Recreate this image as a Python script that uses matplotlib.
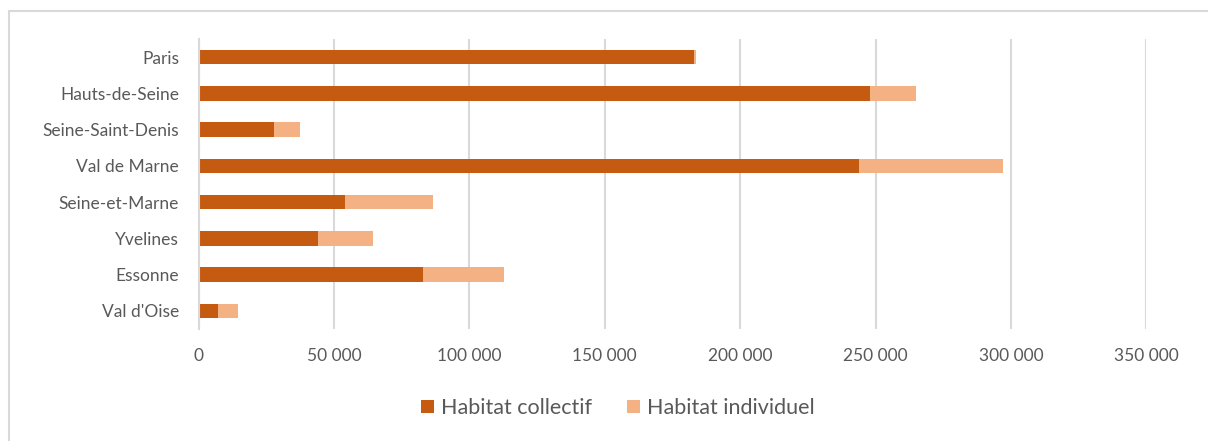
import matplotlib.pyplot as plt
from matplotlib.patches import Rectangle
from matplotlib.ticker import FuncFormatter

departements = ['Paris', 'Hauts-de-Seine', 'Seine-Saint-Denis', 'Val de Marne',
                'Seine-et-Marne', 'Yvelines', 'Essonne', "Val d'Oise"]
collectif = [183100, 248000, 28000, 243900, 54100, 44200, 83000, 7200]
individuel = [600, 17000, 9600, 53200, 32500, 20200, 29800, 7400]

plt.rcParams['font.family'] = ['Lato', 'DejaVu Sans']

fig = plt.figure(figsize=(12.08, 4.41), dpi=100)
ax = fig.add_axes([198.5 / 1208, 1 - 329 / 441, (1146.3 - 198.5) / 1208, 290 / 441])

# cadre autour du graphique (coupé à droite et en bas)
fig.patches.append(Rectangle((8.5 / 1208, -0.05), 1.1, 1 - 10.5 / 441 + 0.05,
                             transform=fig.transFigure, fill=False,
                             edgecolor='#D9D9D9', linewidth=1.5))

y = list(range(len(departements)))
ax.barh(y, collectif, height=0.4, color='#C55A11', label='Habitat collectif')
ax.barh(y, individuel, left=collectif, height=0.4, color='#F4B183',
        label='Habitat individuel')

ax.set_xlim(0, 350000)
ax.set_ylim(len(departements) - 0.5, -0.5)
ax.set_xticks(range(0, 350001, 50000))
ax.xaxis.set_major_formatter(FuncFormatter(lambda v, p: f'{int(v):,}'.replace(',', ' ')))
ax.set_yticks(y)
ax.set_yticklabels(departements)

ax.grid(axis='x', color='#D9D9D9', linewidth=1.5)
ax.set_axisbelow(True)
for s in ['top', 'right', 'bottom']:
    ax.spines[s].set_visible(False)
ax.spines['left'].set_color('#D9D9D9')
ax.spines['left'].set_linewidth(1.5)
ax.tick_params(length=0, labelsize=12.5, labelcolor='#595959')
ax.tick_params(axis='x', pad=14)
ax.tick_params(axis='y', pad=14)

leg = fig.legend(loc='center', bbox_to_anchor=(618 / 1208, 1 - 408 / 441), ncol=2,
                 frameon=False, fontsize=15.5, handlelength=0.6, handleheight=0.6,
                 handletextpad=0.35, columnspacing=1.6)
for t in leg.get_texts():
    t.set_color('#595959')

fig.savefig('out.png', dpi=100)
